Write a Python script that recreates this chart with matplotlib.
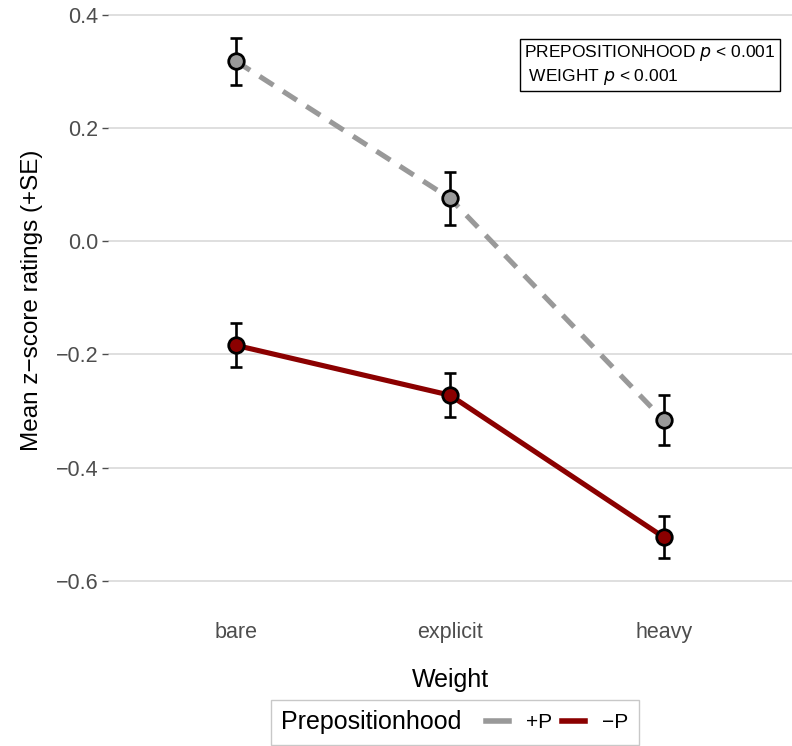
import matplotlib
matplotlib.use("Agg")
import matplotlib.pyplot as plt
from matplotlib.lines import Line2D
from matplotlib.offsetbox import HPacker

plt.rcParams['font.family'] = ['Liberation Sans', 'DejaVu Sans']

categories = ["bare", "explicit", "heavy"]
plus_p_mean = [0.318, 0.076, -0.316]
plus_p_se = [0.041, 0.047, 0.044]
minus_p_mean = [-0.184, -0.272, -0.523]
minus_p_se = [0.039, 0.039, 0.037]
yticks = [0.4, 0.2, 0.0, -0.2, -0.4, -0.6]
ytick_labels = ["0.4", "0.2", "0.0", "\u22120.2", "\u22120.4", "\u22120.6"]

grey = "#999999"
red = "#8B0000"

fig = plt.figure(figsize=(7.92, 7.46), dpi=100)
ax = fig.add_axes([108/792, 1 - 600/746, 1 - 108/792, 600/746])

x = list(range(1, len(categories) + 1))

ax.plot(x, plus_p_mean, color=grey, lw=3.7, dashes=(3.2, 2.2), zorder=2)
ax.plot(x, minus_p_mean, color=red, lw=3.7, zorder=2)
for means, ses, col in [(plus_p_mean, plus_p_se, grey), (minus_p_mean, minus_p_se, red)]:
    ax.errorbar(x, means, yerr=ses, fmt='none', ecolor='black', elinewidth=1.9,
                capsize=4.2, capthick=1.9, zorder=3)
    ax.scatter(x, means, s=125, facecolor=col, edgecolor='black', linewidth=2.0, zorder=4)

ax.set_xlim(0.4, 3.6)
ax.set_ylim(-0.634, 0.4265)
ax.set_xticks(x)
ax.set_xticklabels(categories)
ax.set_yticks(yticks)
ax.set_yticklabels(ytick_labels)
ax.tick_params(axis='both', labelsize=15.5, labelcolor='#4d4d4d', color='#4d4d4d')
ax.tick_params(axis='x', length=0, pad=16)
ax.tick_params(axis='y', length=4, pad=3, width=1)
ax.grid(axis='y', color='#d9d9d9', lw=1.2)
ax.set_axisbelow(True)
for s in ax.spines.values():
    s.set_visible(False)

ax.set_xlabel("Weight", fontsize=18, labelpad=18)
ax.set_ylabel("Mean z\u2212score ratings (+SE)", fontsize=17.5, labelpad=9)

fig.text(524/792, 1 - 65/746, "PREPOSITIONHOOD $p$ < 0.001\n WEIGHT $p$ < 0.001",
         ha='left', va='center', fontsize=12.5, linespacing=1.22,
         bbox=dict(boxstyle='square,pad=0.25', facecolor='white', edgecolor='black', lw=1))

handles = [Line2D([0], [0], color=grey, lw=4),
           Line2D([0], [0], color=red, lw=4)]
leg = fig.legend(handles, ["+P", "\u2212P"], loc='upper center', bbox_to_anchor=(0.574, 1 - 700/746),
                 ncol=2, title="Prepositionhood", fontsize=15, title_fontsize=18,
                 handlelength=1.1, columnspacing=0.5, handletextpad=0.8, frameon=True,
                 fancybox=False, edgecolor='#bbbbbb', borderpad=0.5, borderaxespad=0)
title_box = leg._legend_title_box
handle_box = leg._legend_handle_box
leg._legend_box._children = [HPacker(children=[title_box, handle_box], align='center', pad=0, sep=18)]
fig.savefig("out.png", dpi=100)
